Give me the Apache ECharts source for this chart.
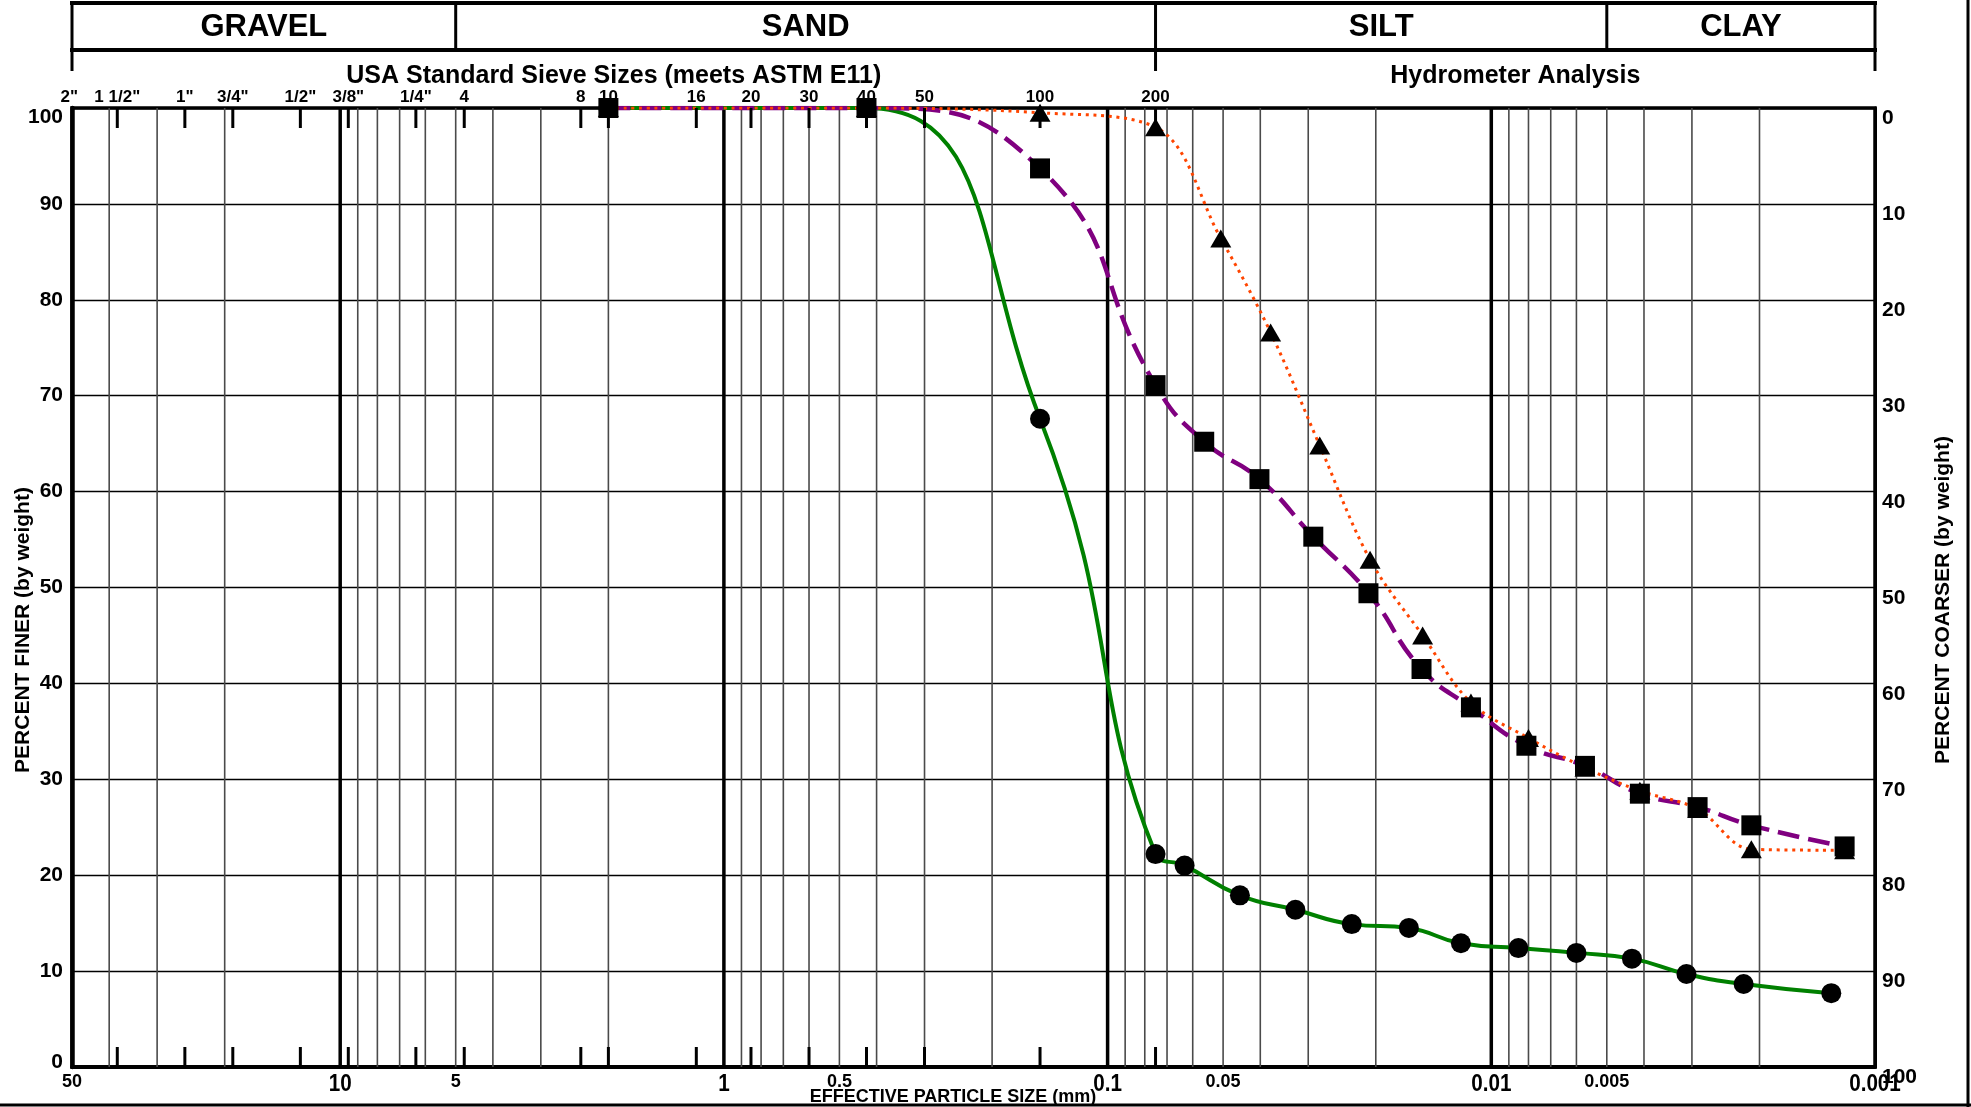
<!DOCTYPE html>
<html>
<head>
<meta charset="utf-8">
<title>Grain Size Distribution</title>
<script src="https://cdn.jsdelivr.net/npm/echarts@6/dist/echarts.min.js"></script>
<style>
    html, body { margin: 0; padding: 0; background: #fff; }
    #chart { width: 1971px; height: 1107px; }
</style>
</head>
<body>
<div id="chart"></div>
<script>
    // particle size (mm) / percent finer
    var greenSize = [2.0, 0.425, 0.15, 0.075, 0.063, 0.0452, 0.0324, 0.0231, 0.0164, 0.012, 0.0085, 0.006, 0.0043, 0.0031, 0.0022, 0.0013]
    var greenFiner = [100, 100, 67.6, 22.2, 21.0, 17.9, 16.4, 14.9, 14.5, 12.9, 12.4, 11.9, 11.3, 9.7, 8.65, 7.7]

    var purpleSize = [2.0, 0.425, 0.15, 0.075, 0.056, 0.0402, 0.0291, 0.0209, 0.0152, 0.0113, 0.0081, 0.0057, 0.0041, 0.0029, 0.0021, 0.0012]
    var purpleFiner = [100, 100, 93.7, 71.1, 65.2, 61.3, 55.3, 49.4, 41.5, 37.5, 33.5, 31.4, 28.5, 27.1, 25.2, 23.0]

    var orangeSize = [2.0, 0.425, 0.15, 0.075, 0.0507, 0.0376, 0.028, 0.0207, 0.0151, 0.0113, 0.008, 0.0057, 0.0041, 0.0029, 0.0021, 0.0012]
    var orangeFiner = [100, 100, 99.5, 98.0, 86.4, 76.6, 64.8, 52.9, 45.0, 38.0, 34.3, 31.2, 28.8, 26.9, 22.7, 22.6]

    // sieve openings (mm) and their names
    var sieveSizes = [50.8, 38.1, 25.4, 19.05, 12.7, 9.525, 6.35, 4.75, 2.36, 2.0, 1.18, 0.85, 0.6, 0.425, 0.3, 0.15, 0.075]
    var sieveLabels = ['2"', '1 1/2"', '1"', '3/4"', '1/2"', '3/8"', '1/4"', '4', '8', '10', '16', '20', '30', '40', '50', '100', '200']

    // bottom axis labels
    var xLabelSizes = [50, 10, 5, 1, 0.5, 0.1, 0.05, 0.01, 0.005, 0.001]
    var xLabelText = ['50', '10', '5', '1', '0.5', '0.1', '0.05', '0.01', '0.005', '0.001']

    // soil classes along the top
    var zoneEdges = [50, 5, 0.075, 0.005, 0.001]
    var zoneNames = ['GRAVEL', 'SAND', 'SILT', 'CLAY']
    var methodEdges = [50, 0.075, 0.001]
    var methodNames = ['USA Standard Sieve Sizes (meets ASTM E11)', 'Hydrometer Analysis']

    function isDecade(v) {
        var e = Math.log10(v)
        return Math.abs(e - Math.round(e)) < 1e-9
    }

    // log grid lines 1..9 x 10^n inside 0.001 - 50
    var gridSizes = []
    for (var e = -3; e <= 1; e++) {
        for (var m = 1; m <= 9; m++) {
            var v = m * Math.pow(10, e)
            if (v > 0.001 && v < 50) gridSizes.push(+v.toPrecision(3))
        }
    }

    function pairs(xs, ys) {
        return xs.map(function (x, i) { return [x, ys[i]] })
    }

    var chart = echarts.init(document.getElementById('chart'))

    var arial = '"Liberation Sans", Arial, sans-serif'
    var labelFont = 'bold 21px ' + arial

    var option = {
        animation: false,
        backgroundColor: '#fff',
        grid: {
            left: 72, right: 96, top: 108, bottom: 40,
            show: true, borderColor: '#000', borderWidth: 3.5
        },
        xAxis: {
            type: 'log', logBase: 10, min: 0.001, max: 50, inverse: true,
            axisLine: { show: true, lineStyle: { color: '#000', width: 4 } },
            axisTick: { show: false },
            axisLabel: { show: false },
            splitLine: { show: false }
        },
        yAxis: [{
            type: 'value', min: 0, max: 100, interval: 10, position: 'left',
            axisLine: { show: true, lineStyle: { color: '#000', width: 4.5 } },
            axisTick: { show: false },
            axisLabel: {
                margin: 9, color: '#000', fontFamily: arial, fontWeight: 'bold', fontSize: 21,
                formatter: function (v) {
                    if (v === 100) return '{top|100}'
                    if (v === 0) return '{bot|0}'
                    return v
                },
                rich: {
                    top: { padding: [18, 0, 0, 0], fontFamily: arial, fontWeight: 'bold', fontSize: 21, color: '#000' },
                    bot: { padding: [0, 0, 10, 0], fontFamily: arial, fontWeight: 'bold', fontSize: 21, color: '#000' }
                }
            },
            splitLine: { show: true, lineStyle: { color: '#000', width: 1.3 } }
        }, {
            type: 'value', min: 0, max: 100, interval: 10, position: 'right', inverse: true,
            axisLine: { show: true, lineStyle: { color: '#000', width: 3 } },
            axisTick: { show: false },
            axisLabel: {
                margin: 7, color: '#000', fontFamily: arial, fontWeight: 'bold', fontSize: 21,
                verticalAlign: 'top'
            },
            splitLine: { show: false }
        }],
        series: [
            {
                // vertical log grid
                type: 'custom', z: 1, silent: true, clip: false,
                data: gridSizes.map(function (v) { return [v, 0] }),
                encode: { x: 0, y: 1 },
                renderItem: function (params, api) {
                    var v = api.value(0)
                    var a = api.coord([v, 0])
                    var b = api.coord([v, 100])
                    var major = isDecade(v)
                    return {
                        type: 'line',
                        shape: { x1: a[0], y1: a[1], x2: b[0], y2: b[1] },
                        style: { stroke: major ? '#000' : '#4a4a4a', lineWidth: major ? 3.5 : 1.6 }
                    }
                }
            },
            {
                // sieve ticks + names
                type: 'custom', z: 6, silent: true, clip: false,
                data: sieveSizes.map(function (v) { return [v, 100] }),
                encode: { x: 0, y: 1 },
                renderItem: function (params, api) {
                    var v = api.value(0)
                    var t = api.coord([v, 100])
                    var b = api.coord([v, 0])
                    var kids = [{
                        type: 'text', x: t[0], y: t[1] - 2,
                        style: {
                            text: sieveLabels[params.dataIndex], fill: '#000',
                            font: 'bold 17px ' + arial, align: 'center', verticalAlign: 'bottom'
                        }
                    }]
                    if (v < 50) {
                        kids.push({ type: 'line', shape: { x1: t[0], y1: t[1], x2: t[0], y2: t[1] + 20 }, style: { stroke: '#000', lineWidth: 3 } })
                        kids.push({ type: 'line', shape: { x1: b[0], y1: b[1], x2: b[0], y2: b[1] - 20 }, style: { stroke: '#000', lineWidth: 3 } })
                    }
                    return { type: 'group', children: kids }
                }
            },
            {
                // bottom size labels
                type: 'custom', z: 6, silent: true, clip: false,
                data: xLabelSizes.map(function (v) { return [v, 0] }),
                encode: { x: 0, y: 1 },
                renderItem: function (params, api) {
                    var v = api.value(0)
                    var p = api.coord([v, 0])
                    var big = isDecade(v)
                    return {
                        type: 'text', x: p[0], y: p[1] + (big ? 5 : 6), scaleX: big ? 0.86 : 1,
                        style: {
                            text: xLabelText[params.dataIndex], fill: '#000',
                            font: big ? 'bold 24px ' + arial : 'bold 18px ' + arial,
                            align: 'center', verticalAlign: 'top'
                        }
                    }
                }
            },
            {
                name: 'green', type: 'line', z: 3, smooth: 0.5, showSymbol: false, silent: true,
                data: pairs(greenSize, greenFiner),
                lineStyle: { color: '#008000', width: 4 }
            },
            {
                name: 'purple', type: 'line', z: 3, smooth: 0.5, showSymbol: false, silent: true,
                data: pairs(purpleSize, purpleFiner),
                lineStyle: { color: '#800080', width: 4.5, type: [22, 9] }
            },
            {
                name: 'orange', type: 'line', z: 3, smooth: 0.35, showSymbol: false, silent: true,
                data: pairs(orangeSize, orangeFiner),
                lineStyle: { color: '#ff4500', width: 3, type: [3, 4.7] }
            },
            {
                type: 'scatter', z: 4, symbol: 'circle', symbolSize: 20, silent: true,
                data: pairs(greenSize, greenFiner), itemStyle: { color: '#000', opacity: 1 }
            },
            {
                type: 'scatter', z: 4, symbol: 'triangle', symbolSize: [21, 18], silent: true,
                data: pairs(orangeSize, orangeFiner), itemStyle: { color: '#000', opacity: 1 }
            },
            {
                type: 'scatter', z: 5, symbol: 'rect', symbolSize: 20, silent: true,
                data: pairs(purpleSize, purpleFiner), itemStyle: { color: '#000', opacity: 1 }
            }
        ]
    }

    chart.setOption(option)

    // header boxes + axis titles, placed off the x axis scale
    function px(v) { return chart.convertToPixel({ xAxisIndex: 0 }, v) }

    var g = []
    var L = px(50), R = px(0.001)
    var hTop = 3, hMid = 50, hSub = 71
    g.push({ type: 'line', shape: { x1: L - 2, y1: hTop, x2: R + 2, y2: hTop }, style: { stroke: '#000', lineWidth: 4 } })
    g.push({ type: 'line', shape: { x1: L - 2, y1: hMid, x2: R + 2, y2: hMid }, style: { stroke: '#000', lineWidth: 4 } })
    zoneEdges.forEach(function (v) {
        g.push({ type: 'line', shape: { x1: px(v), y1: hTop, x2: px(v), y2: hMid }, style: { stroke: '#000', lineWidth: 3 } })
    })
    zoneNames.forEach(function (name, i) {
        g.push({
            type: 'text', x: (px(zoneEdges[i]) + px(zoneEdges[i + 1])) / 2, y: (hTop + hMid) / 2 + 1,
            style: { text: name, font: 'bold 31px ' + arial, fill: '#000', align: 'center', verticalAlign: 'middle' }
        })
    })
    methodEdges.forEach(function (v) {
        g.push({ type: 'line', shape: { x1: px(v), y1: hMid, x2: px(v), y2: hSub }, style: { stroke: '#000', lineWidth: 3 } })
    })
    methodNames.forEach(function (name, i) {
        g.push({
            type: 'text', x: (px(methodEdges[i]) + px(methodEdges[i + 1])) / 2, y: 76,
            style: { text: name, font: 'bold 25px ' + arial, fill: '#000', align: 'center', verticalAlign: 'middle' }
        })
    })
    g.push({
        type: 'text', x: 953, y: 1097,
        style: { text: 'EFFECTIVE PARTICLE SIZE (mm)', font: 'bold 18px ' + arial, fill: '#000', align: 'center', verticalAlign: 'middle' }
    })
    g.push({
        type: 'text', x: 23, y: 630, rotation: Math.PI / 2,
        style: { text: 'PERCENT FINER (by weight)', font: labelFont, fill: '#000', align: 'center', verticalAlign: 'middle' }
    })
    g.push({
        type: 'text', x: 1943, y: 600, rotation: Math.PI / 2,
        style: { text: 'PERCENT COARSER (by weight)', font: labelFont, fill: '#000', align: 'center', verticalAlign: 'middle' }
    })
    // page frame on the right and bottom
    g.push({ type: 'line', shape: { x1: 1968, y1: 0, x2: 1968, y2: 1107 }, style: { stroke: '#000', lineWidth: 3 } })
    g.push({ type: 'line', shape: { x1: 0, y1: 1105, x2: 1971, y2: 1105 }, style: { stroke: '#000', lineWidth: 3 } })

    chart.setOption({ graphic: g })
</script>
</body>
</html>
